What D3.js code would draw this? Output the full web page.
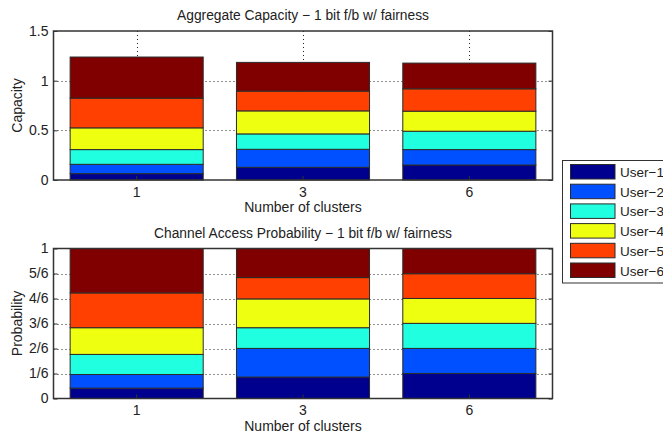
<!DOCTYPE html>
<html>
<head>
<meta charset="utf-8">
<script src="https://cdn.jsdelivr.net/npm/d3@7"></script>
<style>
  body { margin: 0; background: #fff; }
  text { font-family: "Liberation Sans", Arial, Helvetica, sans-serif; fill: #222; }
</style>
</head>
<body>
<div id="chart"></div>
<script>
var svgWidth = 663;
var svgHeight = 435;

// categories and tick labels
var clusters = ["1", "3", "6"];
var users = ["User\u22121", "User\u22122", "User\u22123", "User\u22124", "User\u22125", "User\u22126"];
var userColors = ["#00008f", "#0050ff", "#20ffdf", "#efff10", "#ff4000", "#800000"];

// capacity per user, one value per cluster setting
var capUser1 = [0.064, 0.128, 0.151];
var capUser2 = [0.094, 0.181, 0.155];
var capUser3 = [0.148, 0.155, 0.185];
var capUser4 = [0.219, 0.232, 0.202];
var capUser5 = [0.299, 0.199, 0.225];
var capUser6 = [0.414, 0.289, 0.259];

// channel access probability per user
var probUser1 = [0.069, 0.143, 0.167];
var probUser2 = [0.091, 0.191, 0.167];
var probUser3 = [0.134, 0.138, 0.167];
var probUser4 = [0.178, 0.192, 0.166];
var probUser5 = [0.232, 0.142, 0.165];
var probUser6 = [0.296, 0.194, 0.168];

var capTicks = [0, 0.5, 1, 1.5];
var capTickLabels = ["0", "0.5", "1", "1.5"];
var probTicks = [0, 1/6, 2/6, 3/6, 4/6, 5/6, 1];
var probTickLabels = ["0", "1/6", "2/6", "3/6", "4/6", "5/6", "1"];

var svg = d3.select("#chart")
    .append("svg")
    .attr("width", svgWidth)
    .attr("height", svgHeight);

var plotLeft = 53.5;
var plotRight = 552.5;

function drawPanel(opts) {
    var top = opts.top, bottom = opts.bottom;

    var x = d3.scaleBand()
        .domain(clusters)
        .range([plotLeft, plotRight])
        .paddingInner(0.2)
        .paddingOuter(0.1);

    var y = d3.scaleLinear()
        .domain(opts.domain)
        .range([bottom, top]);

    var g = svg.append("g");

    // dotted grid first, bars cover it
    var grid = g.append("g")
        .attr("stroke", "#222")
        .attr("stroke-width", 1)
        .attr("stroke-dasharray", "1,3");

    grid.selectAll("line.hgrid")
        .data(opts.ticks.slice(1, -1))
        .enter().append("line")
        .attr("x1", plotLeft)
        .attr("x2", plotRight)
        .attr("y1", d => Math.round(y(d)) + 0.5)
        .attr("y2", d => Math.round(y(d)) + 0.5);

    grid.selectAll("line.vgrid")
        .data(clusters)
        .enter().append("line")
        .attr("x1", d => Math.round(x(d) + x.bandwidth() / 2) + 0.5)
        .attr("x2", d => Math.round(x(d) + x.bandwidth() / 2) + 0.5)
        .attr("y1", top)
        .attr("y2", bottom);

    var rows = clusters.map(function(c, i) {
        var row = { cluster: c };
        opts.series.forEach(function(s, j) { row[users[j]] = s[i]; });
        return row;
    });

    var stacked = d3.stack().keys(users)(rows);

    g.append("g")
        .selectAll("g")
        .data(stacked)
        .enter().append("g")
        .attr("fill", (d, i) => userColors[i])
        .selectAll("rect")
        .data(d => d)
        .enter().append("rect")
        .attr("x", d => x(d.data.cluster))
        .attr("width", x.bandwidth())
        .attr("y", d => y(d[1]))
        .attr("height", d => y(d[0]) - y(d[1]))
        .attr("stroke", "#2a2a2a")
        .attr("stroke-width", 1);

    // axes box with inward ticks on both sides
    var leftAxis = d3.axisLeft(y)
        .tickValues(opts.ticks)
        .tickFormat((d, i) => opts.tickLabels[i])
        .tickSizeInner(-4)
        .tickSizeOuter(0)
        .tickPadding(5);

    var ya = g.append("g")
        .attr("transform", `translate(${plotLeft}, 0)`)
        .call(leftAxis);
    ya.select(".domain").remove();
    ya.selectAll("line").attr("stroke", "#333");
    ya.selectAll("text")
        .attr("font-size", 14)
        .attr("fill", "#222");

    var rightTicks = g.append("g")
        .attr("transform", `translate(${plotRight}, 0)`)
        .call(d3.axisRight(y).tickValues(opts.ticks).tickFormat("").tickSizeInner(-4).tickSizeOuter(0));
    rightTicks.select(".domain").remove();
    rightTicks.selectAll("line").attr("stroke", "#333");

    var bottomAxis = d3.axisBottom(x)
        .tickSizeInner(-4)
        .tickSizeOuter(0)
        .tickPadding(7);

    var xa = g.append("g")
        .attr("transform", `translate(0, ${bottom})`)
        .call(bottomAxis);
    xa.select(".domain").remove();
    xa.selectAll("line").attr("stroke", "#333");
    xa.selectAll("text")
        .attr("font-size", 14)
        .attr("fill", "#222");

    g.append("rect")
        .attr("x", plotLeft)
        .attr("y", top)
        .attr("width", plotRight - plotLeft)
        .attr("height", bottom - top)
        .attr("fill", "none")
        .attr("stroke", "#333")
        .attr("stroke-width", 1.5);

    g.append("text")
        .attr("x", (plotLeft + plotRight) / 2)
        .attr("y", top - 11)
        .attr("text-anchor", "middle")
        .attr("font-size", 13.8)
        .text(opts.title);

    g.append("text")
        .attr("x", (plotLeft + plotRight) / 2)
        .attr("y", bottom + 32)
        .attr("text-anchor", "middle")
        .attr("font-size", 14)
        .text("Number of clusters");

    g.append("text")
        .attr("transform", `translate(22, ${(top + bottom) / 2}) rotate(-90)`)
        .attr("text-anchor", "middle")
        .attr("font-size", 14)
        .text(opts.yLabel);
}

drawPanel({
    top: 31,
    bottom: 180,
    domain: [0, 1.5],
    ticks: capTicks,
    tickLabels: capTickLabels,
    series: [capUser1, capUser2, capUser3, capUser4, capUser5, capUser6],
    title: "Aggregate Capacity \u2212 1 bit f/b w/ fairness",
    yLabel: "Capacity"
});

drawPanel({
    top: 248.5,
    bottom: 398.5,
    domain: [0, 1],
    ticks: probTicks,
    tickLabels: probTickLabels,
    series: [probUser1, probUser2, probUser3, probUser4, probUser5, probUser6],
    title: "Channel Access Probability \u2212 1 bit f/b w/ fairness",
    yLabel: "Probability"
});

// legend
var legend = svg.append("g");
legend.append("rect")
    .attr("x", 562.5)
    .attr("y", 160.5)
    .attr("width", 110)
    .attr("height", 122.5)
    .attr("fill", "#fff")
    .attr("stroke", "#333")
    .attr("stroke-width", 1);

var items = legend.selectAll("g.item")
    .data(users)
    .enter().append("g")
    .attr("transform", (d, i) => `translate(0, ${164.5 + i * 19.7})`);

items.append("rect")
    .attr("x", 570.5)
    .attr("y", 0)
    .attr("width", 44.5)
    .attr("height", 14.5)
    .attr("fill", (d, i) => userColors[i])
    .attr("stroke", "#2a2a2a");

items.append("text")
    .attr("x", 620)
    .attr("y", 12.5)
    .attr("font-size", 13.5)
    .text(d => d);
</script>
</body>
</html>
